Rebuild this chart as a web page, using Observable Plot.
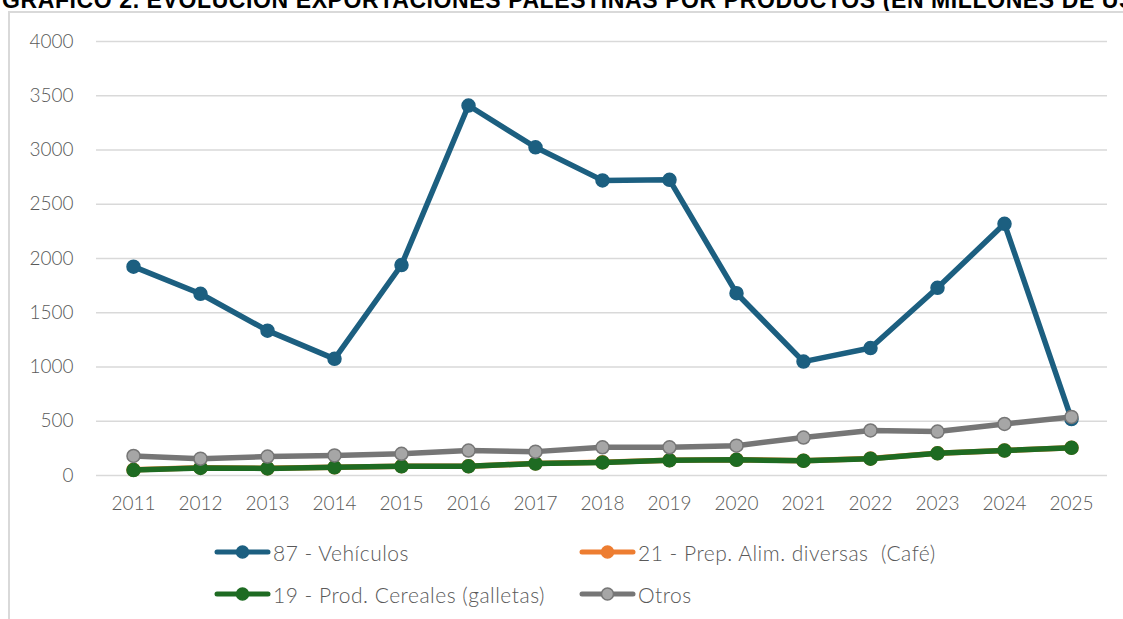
<!DOCTYPE html>
<html>
<head>
<meta charset="utf-8">
<script src="https://cdn.jsdelivr.net/npm/d3@7"></script>
<script src="https://cdn.jsdelivr.net/npm/@observablehq/plot@0.6"></script>
<style>
  html, body { margin:0; padding:0; background:#fff; overflow:hidden; width:1123px; height:619px; }
  #title { position:absolute; left:2px; top:-11px; font-family:"Liberation Sans", Arial, sans-serif; font-weight:bold; font-size:23px; letter-spacing:0.6px; line-height:1; color:#000; white-space:nowrap; }
  #frame { position:absolute; left:8px; top:11px; width:1200px; height:700px; border-left:2px solid #d9d9d9; border-top:2px solid #d9d9d9; }
  #chart { position:absolute; left:0; top:0; }
  .leg { position:absolute; display:flex; align-items:center; font-family:Lato, sans-serif; font-weight:300; font-size:21px; letter-spacing:0.5px; color:#595959; white-space:pre; }
  .leg svg { margin-right:2px; }
</style>
</head>
<body>
<div id="title">GRÁFICO 2. EVOLUCIÓN EXPORTACIONES PALESTINAS POR PRODUCTOS (EN MILLONES DE USD)</div>
<div id="frame"></div>
<div id="chart"></div>
<div id="legend"></div>
<script>
const years = [2011,2012,2013,2014,2015,2016,2017,2018,2019,2020,2021,2022,2023,2024,2025];
const vehiculos = [1925,1675,1335,1075,1940,3410,3025,2720,2725,1680,1050,1175,1730,2320,520];
const cafe      = [52,72,66,76,86,86,111,121,141,146,136,156,206,231,256];
const galletas  = [50,70,65,75,85,85,110,120,140,145,135,155,205,230,255];
const otros     = [180,155,175,185,200,230,220,260,260,275,350,415,405,475,540];
const yTicks = [0,500,1000,1500,2000,2500,3000,3500,4000];

const series = [
  {name:"87 - Vehículos", values:vehiculos, color:"#1c5f80", dotFill:"#1c5f80", dotStroke:"#1c5f80"},
  {name:"21 - Prep. Alim. diversas  (Café)", values:cafe, color:"#ed7d31", dotFill:"#ed7d31", dotStroke:"#ed7d31"},
  {name:"19 - Prod. Cereales (galletas)", values:galletas, color:"#1e6b22", dotFill:"#1e6b22", dotStroke:"#1e6b22"},
  {name:"Otros", values:otros, color:"#767676", dotFill:"#a6a6a6", dotStroke:"#767676"}
];

const marks = [
  Plot.ruleY(yTicks, {stroke:"#d9d9d9", strokeWidth:1.5}),
  Plot.axisY(yTicks, {tickSize:0, tickPadding:23, tickFormat:d => String(d)}),
  Plot.axisX({tickSize:0, tickPadding:21, tickFormat:d => String(d)})
];
for (const s of series) {
  const data = years.map((y,i)=>({year:y, value:s.values[i]}));
  marks.push(Plot.line(data, {x:"year", y:"value", stroke:s.color, strokeWidth:5.5, strokeLinejoin:"round", strokeLinecap:"round"}));
  marks.push(Plot.dot(data, {x:"year", y:"value", r:6.5, fill:s.dotFill, stroke:s.dotStroke, strokeWidth:1.5}));
}

const chart = Plot.plot({
  width:1123, height:530,
  marginLeft:96, marginRight:16, marginTop:41, marginBottom:55,
  x:{type:"point", domain:years, padding:0.5, label:null},
  y:{domain:[0,4000], label:null},
  style:{fontFamily:"Lato, sans-serif", fontSize:"19px", fontWeight:300, color:"#595959", background:"transparent", overflow:"visible"},
  marks
});
document.getElementById("chart").appendChild(chart);

const legendPos = [
  {left:214, top:552}, {left:579, top:552},
  {left:214, top:594}, {left:579, top:594}
];
const legend = document.getElementById("legend");
series.forEach((s,i)=>{
  const d = document.createElement("div");
  d.className = "leg";
  d.style.left = legendPos[i].left + "px";
  d.style.top = (legendPos[i].top - 14) + "px";
  d.style.height = "28px";
  d.innerHTML = `<svg width="57" height="16"><line x1="3" y1="8" x2="54" y2="8" stroke="${s.color}" stroke-width="5" stroke-linecap="round"/><circle cx="28.5" cy="8" r="6" fill="${s.dotFill}" stroke="${s.dotStroke}" stroke-width="1.5"/></svg><span>${s.name}</span>`;
  legend.appendChild(d);
});
</script>
</body>
</html>
